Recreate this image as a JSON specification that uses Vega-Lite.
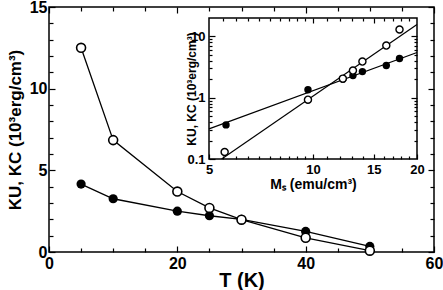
{
  "$schema": "https://vega.github.io/schema/vega-lite/v6.json",
  "width": 385,
  "height": 245,
  "autosize": {"type": "none"},
  "padding": {"left": 49, "top": 7, "right": 9, "bottom": 38},
  "background": "white",
  "config": {
    "view": {"stroke": "black", "strokeWidth": 1.5},
    "axis": {
      "labelFont": "Liberation Sans",
      "labelFontWeight": "bold",
      "titleFont": "Liberation Sans",
      "titleFontWeight": "bold",
      "labelColor": "black",
      "titleColor": "black",
      "tickColor": "black",
      "tickWidth": 1.2,
      "ticks": true,
      "domain": false,
      "grid": false,
      "labelOverlap": false,
      "labelFlush": false
    }
  },
  "datasets": {
    "main": [
      {"T": 5, "K": 12.5, "s": "KU"},
      {"T": 10, "K": 6.85, "s": "KU"},
      {"T": 20, "K": 3.7, "s": "KU"},
      {"T": 25, "K": 2.7, "s": "KU"},
      {"T": 30, "K": 1.98, "s": "KU"},
      {"T": 40, "K": 0.87, "s": "KU"},
      {"T": 50, "K": 0.08, "s": "KU"},
      {"T": 5, "K": 4.16, "s": "KC"},
      {"T": 10, "K": 3.26, "s": "KC"},
      {"T": 20, "K": 2.5, "s": "KC"},
      {"T": 25, "K": 2.22, "s": "KC"},
      {"T": 30, "K": 2.0, "s": "KC"},
      {"T": 40, "K": 1.26, "s": "KC"},
      {"T": 50, "K": 0.34, "s": "KC"}
    ],
    "inset": [
      {"Ms": 5.55, "K": 0.13, "s": "KU"},
      {"Ms": 9.67, "K": 0.93, "s": "KU"},
      {"Ms": 12.2, "K": 2.05, "s": "KU"},
      {"Ms": 13.05, "K": 2.77, "s": "KU"},
      {"Ms": 13.9, "K": 3.89, "s": "KU"},
      {"Ms": 16.3, "K": 7.1, "s": "KU"},
      {"Ms": 17.8, "K": 13.0, "s": "KU"},
      {"Ms": 5.6, "K": 0.36, "s": "KC"},
      {"Ms": 9.67, "K": 1.35, "s": "KC"},
      {"Ms": 12.2, "K": 2.0, "s": "KC"},
      {"Ms": 13.05, "K": 2.3, "s": "KC"},
      {"Ms": 13.9, "K": 2.67, "s": "KC"},
      {"Ms": 16.3, "K": 3.35, "s": "KC"},
      {"Ms": 17.8, "K": 4.36, "s": "KC"}
    ],
    "fits": [
      {"Ms": 5.44, "K": 0.1, "s": "KU"},
      {"Ms": 20, "K": 15.7, "s": "KU"},
      {"Ms": 5, "K": 0.31, "s": "KC"},
      {"Ms": 20, "K": 5.47, "s": "KC"}
    ],
    "frame": [
      {"x0": 5, "x1": 20, "y0": 0.1, "y1": 20}
    ]
  },
  "resolve": {
    "scale": {"x": "independent", "y": "independent"},
    "axis": {"x": "independent", "y": "independent"}
  },
  "layer": [
    {
      "data": {"name": "main"},
      "transform": [{"filter": "datum.s == 'KC'"}],
      "mark": {"type": "line", "color": "black", "strokeWidth": 1.3},
      "encoding": {
        "x": {"field": "T", "type": "quantitative", "scale": {"domain": [0, 60], "nice": false},
          "axis": {"orient": "bottom", "values": [0, 20, 40, 60], "offset": -6, "tickSize": 6, "tickColor": "black", "tickOpacity": 1, "labelPadding": 3, "labelFontSize": 16, "title": "T   (K)", "titleFontSize": 20, "titlePadding": -1}},
        "y": {"field": "K", "type": "quantitative", "scale": {"domain": [0, 15], "nice": false},
          "axis": {"orient": "left", "values": [0, 5, 10, 15], "offset": -6, "tickSize": 6, "tickColor": "black", "tickOpacity": 1, "labelPadding": 2, "labelFontSize": 16, "title": "KU, KC  (10³erg/cm³)", "titleFontSize": 17, "titlePadding": 5}}
      }
    },
    {
      "data": {"name": "main"},
      "transform": [{"filter": "datum.s == 'KU'"}],
      "mark": {"type": "line", "color": "black", "strokeWidth": 1.3},
      "encoding": {
        "x": {"field": "T", "type": "quantitative", "scale": {"domain": [0, 60], "nice": false},
          "axis": {"orient": "bottom", "values": [5, 10, 15, 25, 30, 35, 45, 50, 55], "offset": -4, "tickSize": 4, "tickColor": "black", "tickOpacity": 1, "labels": false, "title": null}},
        "y": {"field": "K", "type": "quantitative", "scale": {"domain": [0, 15], "nice": false},
          "axis": {"orient": "left", "values": [1, 2, 3, 4, 6, 7, 8, 9, 11, 12, 13, 14], "offset": -4, "tickSize": 4, "tickColor": "black", "tickOpacity": 1, "labels": false, "title": null}}
      }
    },
    {
      "data": {"name": "main"},
      "transform": [{"filter": "datum.s == 'KC'"}],
      "mark": {"type": "point", "shape": "circle", "filled": true, "color": "black", "size": 85, "opacity": 1},
      "encoding": {
        "x": {"field": "T", "type": "quantitative", "scale": {"domain": [0, 60], "nice": false},
          "axis": {"orient": "top", "values": [0, 20, 40, 60], "offset": -6, "tickSize": 6, "tickColor": "black", "tickOpacity": 1, "labels": false, "title": null}},
        "y": {"field": "K", "type": "quantitative", "scale": {"domain": [0, 15], "nice": false},
          "axis": {"orient": "right", "values": [0, 5, 10, 15], "offset": -6, "tickSize": 6, "tickColor": "black", "tickOpacity": 1, "labels": false, "title": null}}
      }
    },
    {
      "data": {"name": "main"},
      "transform": [{"filter": "datum.s == 'KU'"}],
      "mark": {"type": "point", "shape": "circle", "filled": true, "fill": "white", "stroke": "black", "strokeWidth": 1.6, "size": 80, "opacity": 1},
      "encoding": {
        "x": {"field": "T", "type": "quantitative", "scale": {"domain": [0, 60], "nice": false},
          "axis": {"orient": "top", "values": [5, 10, 15, 25, 30, 35, 45, 50, 55], "offset": -4, "tickSize": 4, "tickColor": "black", "tickOpacity": 1, "labels": false, "title": null}},
        "y": {"field": "K", "type": "quantitative", "scale": {"domain": [0, 15], "nice": false},
          "axis": {"orient": "right", "values": [1, 2, 3, 4, 6, 7, 8, 9, 11, 12, 13, 14], "offset": -4, "tickSize": 4, "tickColor": "black", "tickOpacity": 1, "labels": false, "title": null}}
      }
    },
    {
      "data": {"name": "frame"},
      "mark": {"type": "rect", "filled": false, "stroke": "black", "strokeWidth": 1.5},
      "encoding": {
        "x": {"field": "x0", "type": "quantitative", "scale": {"type": "log", "domain": [5, 20], "range": [160, 368], "nice": false}, "axis": null},
        "x2": {"field": "x1"},
        "y": {"field": "y0", "type": "quantitative", "scale": {"type": "log", "domain": [0.1, 20], "range": [152, 11], "nice": false}, "axis": null},
        "y2": {"field": "y1"}
      }
    },
    {
      "data": {"name": "fits"},
      "transform": [{"filter": "datum.s == 'KU'"}],
      "mark": {"type": "line", "color": "black", "strokeWidth": 1.2},
      "encoding": {
        "x": {"field": "Ms", "type": "quantitative", "scale": {"type": "log", "domain": [5, 20], "range": [160, 368], "nice": false},
          "axis": {"orient": "bottom", "offset": -98, "values": [5, 10, 15, 20], "tickSize": 5, "tickColor": "black", "tickOpacity": 1, "labelPadding": 4, "labelFontSize": 13, "title": "Mₛ  (emu/cm³)", "titleFontSize": 14, "titlePadding": 1}},
        "y": {"field": "K", "type": "quantitative", "scale": {"type": "log", "domain": [0.1, 20], "range": [152, 11], "nice": false},
          "axis": {"orient": "left", "offset": -166, "values": [0.1, 1, 10], "labelExpr": "datum.value < 0.5 ? '0.1' : datum.value < 5 ? '1' : '10'", "tickSize": 6, "tickColor": "black", "tickOpacity": 1, "labelPadding": 4, "labelFontSize": 13, "title": "KU, KC  (10³erg/cm³)", "titleFontSize": 12, "titlePadding": -12}}
      }
    },
    {
      "data": {"name": "fits"},
      "transform": [{"filter": "datum.s == 'KC'"}],
      "mark": {"type": "line", "color": "black", "strokeWidth": 1.2},
      "encoding": {
        "x": {"field": "Ms", "type": "quantitative", "scale": {"type": "log", "domain": [5, 20], "range": [160, 368], "nice": false},
          "axis": {"orient": "bottom", "offset": -96, "values": [5.5, 6, 6.5, 7, 7.5, 8, 8.5, 9, 9.5, 11, 12, 13, 14, 16, 17, 18, 19], "tickSize": 3, "tickColor": "black", "tickOpacity": 1, "labels": false, "title": null}},
        "y": {"field": "K", "type": "quantitative", "scale": {"type": "log", "domain": [0.1, 20], "range": [152, 11], "nice": false},
          "axis": {"orient": "left", "offset": -163, "values": [0.2, 0.3, 0.4, 0.5, 0.6, 0.7, 0.8, 0.9, 2, 3, 4, 5, 6, 7, 8, 9], "tickSize": 3, "tickColor": "black", "tickOpacity": 1, "labels": false, "title": null}}
      }
    },
    {
      "data": {"name": "inset"},
      "transform": [{"filter": "datum.s == 'KC'"}],
      "mark": {"type": "point", "shape": "circle", "filled": true, "color": "black", "size": 55, "opacity": 1},
      "encoding": {
        "x": {"field": "Ms", "type": "quantitative", "scale": {"type": "log", "domain": [5, 20], "range": [160, 368], "nice": false},
          "axis": {"orient": "top", "offset": -16, "values": [10, 15], "tickSize": 5, "tickColor": "black", "tickOpacity": 1, "labels": false, "title": null}},
        "y": {"field": "K", "type": "quantitative", "scale": {"type": "log", "domain": [0.1, 20], "range": [152, 11], "nice": false},
          "axis": {"orient": "right", "offset": -23, "values": [1, 10], "tickSize": 6, "tickColor": "black", "tickOpacity": 1, "labels": false, "title": null}}
      }
    },
    {
      "data": {"name": "inset"},
      "transform": [{"filter": "datum.s == 'KU'"}],
      "mark": {"type": "point", "shape": "circle", "filled": true, "fill": "white", "stroke": "black", "strokeWidth": 1.4, "size": 50, "opacity": 1},
      "encoding": {
        "x": {"field": "Ms", "type": "quantitative", "scale": {"type": "log", "domain": [5, 20], "range": [160, 368], "nice": false},
          "axis": {"orient": "top", "offset": -14, "values": [5.5, 6, 6.5, 7, 7.5, 8, 8.5, 9, 9.5, 11, 12, 13, 14, 16, 17, 18, 19], "tickSize": 3, "tickColor": "black", "tickOpacity": 1, "labels": false, "title": null}},
        "y": {"field": "K", "type": "quantitative", "scale": {"type": "log", "domain": [0.1, 20], "range": [152, 11], "nice": false},
          "axis": {"orient": "right", "offset": -20, "values": [0.2, 0.3, 0.4, 0.5, 0.6, 0.7, 0.8, 0.9, 2, 3, 4, 5, 6, 7, 8, 9], "tickSize": 3, "tickColor": "black", "tickOpacity": 1, "labels": false, "title": null}}
      }
    }
  ]
}
